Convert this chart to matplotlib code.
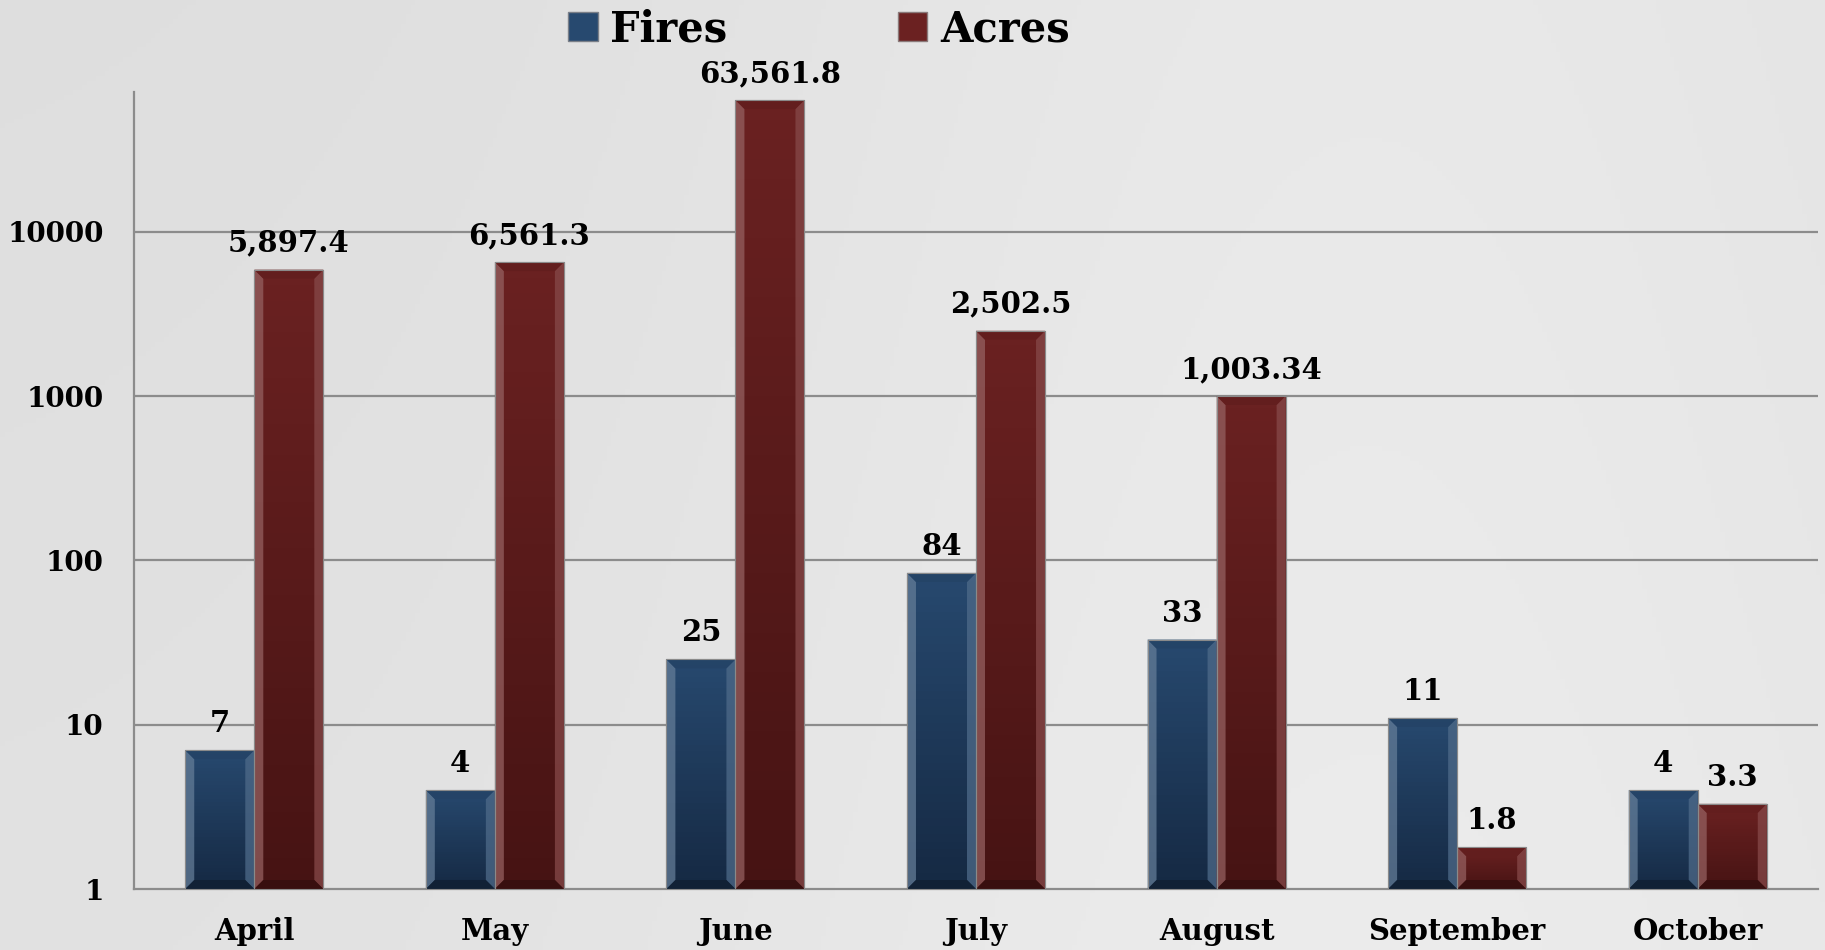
import numpy as np
import matplotlib
matplotlib.use("Agg")
import matplotlib.pyplot as plt
from matplotlib.collections import PolyCollection
from matplotlib.transforms import IdentityTransform
from matplotlib.patches import Patch
from matplotlib.colors import to_rgb

# ---- data ----
months = ["April", "May", "June", "July", "August", "September", "October"]
fires = [7, 4, 25, 84, 33, 11, 4]
acres = [5897.4, 6561.3, 63561.8, 2502.5, 1003.34, 1.8, 3.3]
yticks = [1, 10, 100, 1000, 10000]
series_names = ["Fires", "Acres"]

FONT = "DejaVu Serif"
W, H, DPI = 1825, 950, 100
fig = plt.figure(figsize=(W / DPI, H / DPI), dpi=DPI)
fig.patch.set_facecolor("#e6e6e6")

# subtle background gradient
bg = fig.add_axes([0, 0, 1, 1], zorder=-10)
gx = np.linspace(0, 1, 400)
gy = np.linspace(0, 1, 200)
GX, GY = np.meshgrid(gx, gy)
val = 0.872 + 0.04 * np.exp(-((GX - 0.75) ** 2) / 0.15) + 0.012 * GY
bg.imshow(np.dstack([val, val, val]), aspect="auto", extent=[0, 1, 0, 1])
bg.set_axis_off()

ax = fig.add_axes([134 / W, 1 - 889 / H, (1818 - 134) / W, (889 - 92) / H])
ax.set_facecolor("none")
ax.set_yscale("log")
ax.set_ylim(1, 10 ** 4.852)
n = len(months)
ax.set_xlim(-0.5, n - 0.5)

bw = 0.287
x = np.arange(n)
blue_top, blue_bot = "#27496f", "#152943"
red_top, red_bot = "#6b2121", "#461313"

b1 = ax.bar(x - bw / 2, fires, width=bw, color=blue_top, edgecolor="#7a7f88",
            linewidth=0.8, zorder=3)
b2 = ax.bar(x + bw / 2, acres, width=bw, color=red_top, edgecolor="#8a7a7a",
            linewidth=0.8, zorder=3)

# gridlines / spines
for t in yticks[1:]:
    ax.axhline(t, color="#8c8c8c", linewidth=1.6, zorder=1)
for s in ["top", "right"]:
    ax.spines[s].set_visible(False)
for s in ["left", "bottom"]:
    ax.spines[s].set_color("#8c8c8c")
    ax.spines[s].set_linewidth(1.6)

ax.set_yticks(yticks)
ax.set_yticklabels([str(t) for t in yticks])
ax.minorticks_off()
ax.set_xticks(x)
ax.set_xticklabels(months)
ax.tick_params(axis="y", length=0, pad=22)
ax.tick_params(axis="x", length=0, pad=20)
for lab in ax.get_xticklabels():
    lab.set_fontfamily(FONT)
    lab.set_fontweight("bold")
    lab.set_fontsize(21)
    lab.set_color("black")
for lab in ax.get_yticklabels():
    lab.set_fontfamily(FONT)
    lab.set_fontweight("bold")
    lab.set_fontsize(20)
    lab.set_color("black")


def mix(c, other, t):
    a = np.array(to_rgb(c)); b = np.array(to_rgb(other))
    return tuple(a * (1 - t) + b * t)


def bevel(bars, ctop, cbot):
    tr = ax.transData
    polys, cols = [], []
    for p in bars:
        x0d = p.get_x()
        x1d, y1d = x0d + p.get_width(), p.get_height()
        (X0, Y0) = tr.transform((x0d, 1))
        (X1, Y1) = tr.transform((x1d, y1d))
        ns = 40
        ys = np.linspace(Y0, Y1, ns + 1)
        for i in range(ns):
            t = i / ns
            polys.append([(X0, ys[i]), (X1, ys[i]), (X1, ys[i + 1]), (X0, ys[i + 1])])
            cols.append(mix(cbot, ctop, t) + (1,))
        b = min(9, (Y1 - Y0) / 2)
        # left
        polys.append([(X0, Y0), (X0 + b, Y0 + b), (X0 + b, Y1 - b), (X0, Y1)])
        cols.append(mix(ctop, "white", 0.28) + (0.75,))
        # right
        polys.append([(X1, Y0), (X1 - b, Y0 + b), (X1 - b, Y1 - b), (X1, Y1)])
        cols.append(mix(ctop, "white", 0.18) + (0.75,))
        # top
        polys.append([(X0, Y1), (X1, Y1), (X1 - b, Y1 - b), (X0 + b, Y1 - b)])
        cols.append(mix(ctop, "black", 0.08) + (0.8,))
        # bottom
        polys.append([(X0, Y0), (X1, Y0), (X1 - b, Y0 + b), (X0 + b, Y0 + b)])
        cols.append(mix(cbot, "black", 0.25) + (0.8,))
    pc = PolyCollection(polys, facecolors=cols, edgecolors="none", zorder=4)
    pc.set_transform(IdentityTransform())
    ax.add_collection(pc, autolim=False)
    for p in bars:
        (X0, Y0) = tr.transform((p.get_x(), 1))
        (X1, Y1) = tr.transform((p.get_x() + p.get_width(), p.get_height()))
        ol = PolyCollection([[(X0, Y0), (X1, Y0), (X1, Y1), (X0, Y1)]],
                            facecolors="none", edgecolors="#8a8a8a",
                            linewidths=0.8, zorder=5)
        ol.set_transform(IdentityTransform())
        ax.add_collection(ol, autolim=False)


bevel(b1, blue_top, blue_bot)
bevel(b2, red_top, red_bot)

# data labels
for xi, v in zip(x - bw / 2, fires):
    ax.annotate(f"{v:,}", (xi, v), xytext=(0, 13), textcoords="offset points",
                ha="center", va="baseline", fontsize=21, fontweight="bold",
                family=FONT, zorder=6)
for xi, v in zip(x + bw / 2, acres):
    ax.annotate(f"{v:,}", (xi, v), xytext=(0, 13), textcoords="offset points",
                ha="center", va="baseline", fontsize=21, fontweight="bold",
                family=FONT, zorder=6)

# legend
handles = [Patch(facecolor=blue_top, edgecolor="#7a7f88"),
           Patch(facecolor=red_top, edgecolor="#8a7a7a")]
leg = fig.legend(handles, series_names, loc="upper center",
                 bbox_to_anchor=(819 / W, 1.031), ncol=2, frameon=False,
                 prop={"family": FONT, "weight": "bold", "size": 30},
                 handlelength=0.7, handleheight=0.7, handletextpad=0.3,
                 columnspacing=4.1)

fig.savefig("out.png", dpi=DPI, facecolor=fig.get_facecolor())
